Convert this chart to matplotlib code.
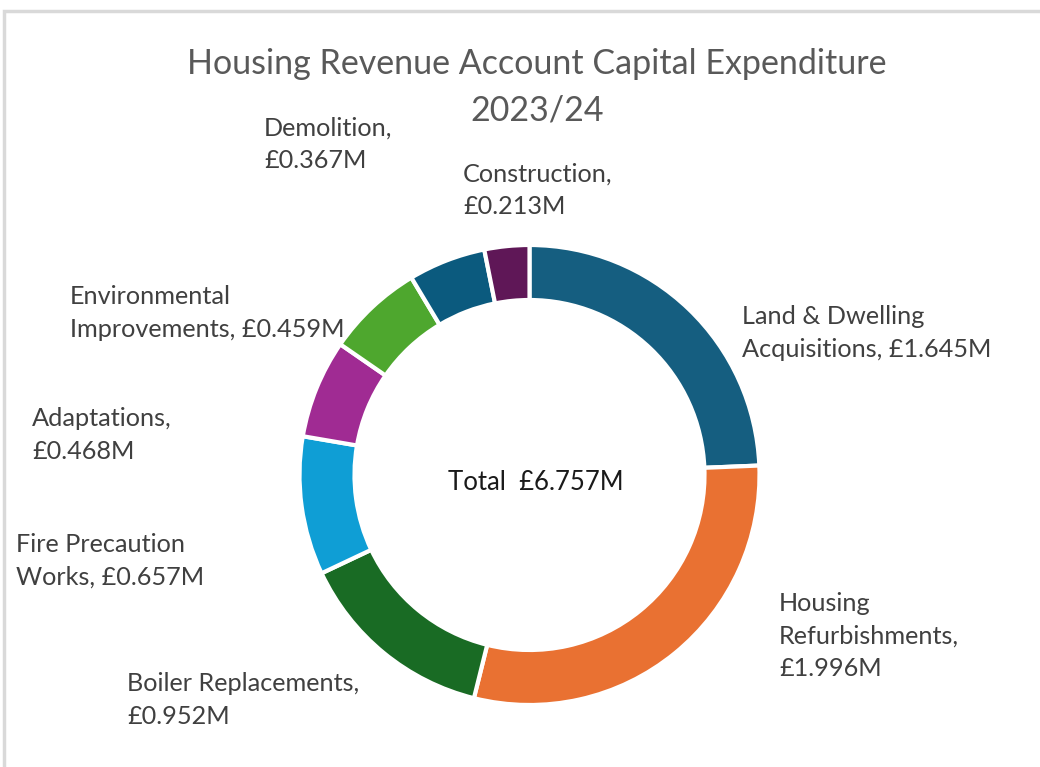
import matplotlib
matplotlib.use("Agg")
import matplotlib.pyplot as plt
from matplotlib.patches import Rectangle

categories = ["Land & Dwelling\nAcquisitions", "Housing\nRefurbishments", "Boiler Replacements",
              "Fire Precaution\nWorks", "Adaptations", "Environmental\nImprovements",
              "Demolition", "Construction"]
values = [1.645, 1.996, 0.952, 0.657, 0.468, 0.459, 0.367, 0.213]
colors = ["#155E80", "#E97132", "#196B24", "#0F9ED5", "#A02B93", "#4EA72E", "#0B5A7E", "#5F1757"]
label_texts = ["Land & Dwelling\nAcquisitions, £{:.3f}M",
               "Housing\nRefurbishments,\n£{:.3f}M",
               "Boiler Replacements,\n£{:.3f}M",
               "Fire Precaution\nWorks, £{:.3f}M",
               "Adaptations,\n£{:.3f}M",
               "Environmental\nImprovements, £{:.3f}M",
               "Demolition,\n£{:.3f}M",
               "Construction,\n£{:.3f}M"]
title_lines = ["Housing Revenue Account Capital Expenditure", "2023/24"]

W, H = 1040, 767
FONT = ["Lato", "DejaVu Sans"]

fig = plt.figure(figsize=(W / 100, H / 100), dpi=100)
ax = fig.add_axes([0, 0, 1, 1])
ax.set_xlim(0, W)
ax.set_ylim(0, H)
ax.set_aspect("equal")
ax.axis("off")

# frame (top and left visible)
fig.patches.append(Rectangle((4 / W, -0.1), 1.2, (H - 11) / H + 0.1, transform=fig.transFigure,
                             fill=False, edgecolor="#D9D9D9", linewidth=2.5))

cx, cy, R = 529.5, H - 475, 230
ax.pie(values, colors=colors, startangle=90, counterclock=False, center=(cx, cy), radius=R,
       wedgeprops=dict(width=55, edgecolor="white", linewidth=3), frame=False)
ax.set_xlim(0, W)
ax.set_ylim(0, H)

# label layout: left x, block center y (pixel coords from top)
label_pos = [(742, 333), (779, 636), (127, 700), (16, 561), (32, 435), (70, 313), (264, 144), (463, 190)]
for txt, v, (lx, ly) in zip(label_texts, values, label_pos):
    ax.text(lx, H - ly, txt.format(v), ha="left", va="center", fontsize=18.2,
            color="#404040", family=FONT, linespacing=1.5)

ax.text(536, H - 483, "Total  £{:.3f}M".format(sum(values)), ha="center", va="center",
        fontsize=18.5, color="#1a1a1a", family=FONT)

for line, base in zip(title_lines, [74, 120]):
    ax.text(537, H - base, line, ha="center", va="baseline", fontsize=24.5, color="#595959",
            family=FONT)

fig.savefig("out.png", dpi=100)
